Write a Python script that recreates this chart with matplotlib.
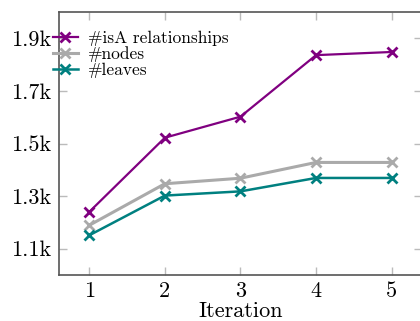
import matplotlib
matplotlib.use("Agg")
import matplotlib.pyplot as plt
from matplotlib.ticker import FuncFormatter

iterations = [1, 2, 3, 4, 5]
isa_relationships = [1240, 1522, 1602, 1836, 1848]
nodes = [1189, 1347, 1368, 1428, 1428]
leaves = [1151, 1302, 1318, 1369, 1369]

labels = ["#isA relationships", "#nodes", "#leaves"]
colors = ["#800080", "#aaaaaa", "#008080"]

plt.rcParams['font.family'] = ['cmr10', 'DejaVu Serif']
plt.rcParams['mathtext.fontset'] = 'cm'
plt.rcParams['axes.unicode_minus'] = False

fig = plt.figure(figsize=(4.2, 3.21), dpi=100)
ax = fig.add_axes([0.1405, 0.1433, 0.864, 0.8193])

for ys, lab, c, lw in zip([isa_relationships, nodes, leaves], labels, colors, [1.6, 2.2, 1.8]):
    ax.plot(iterations, ys, color=c, lw=lw, marker='x', markersize=6.5, mew=2, label=lab)

ax.set_xlim(0.6, 5.4)
ax.set_ylim(1000, 2000)
ax.set_xticks(iterations)
ax.set_yticks([1100, 1300, 1500, 1700, 1900])
ax.yaxis.set_major_formatter(FuncFormatter(lambda v, p: f"{v/1000:.1f}k"))

ax.tick_params(direction='in', length=6, width=1, color='#bbbbbb',
               labelsize=16, top=True, right=True, pad=6)
ax.tick_params(axis='x', pad=5)
for s in ax.spines.values():
    s.set_color('#555555')
    s.set_linewidth(1.2)

ax.set_xlabel("Iteration", fontsize=16, labelpad=0)

leg = ax.legend(loc='upper left', bbox_to_anchor=(-0.035, 0.955), frameon=False,
                fontsize=12.5, handlelength=1.4, handletextpad=0.6,
                labelspacing=0.02, borderaxespad=0.0)

fig.savefig("out.png", dpi=100)
